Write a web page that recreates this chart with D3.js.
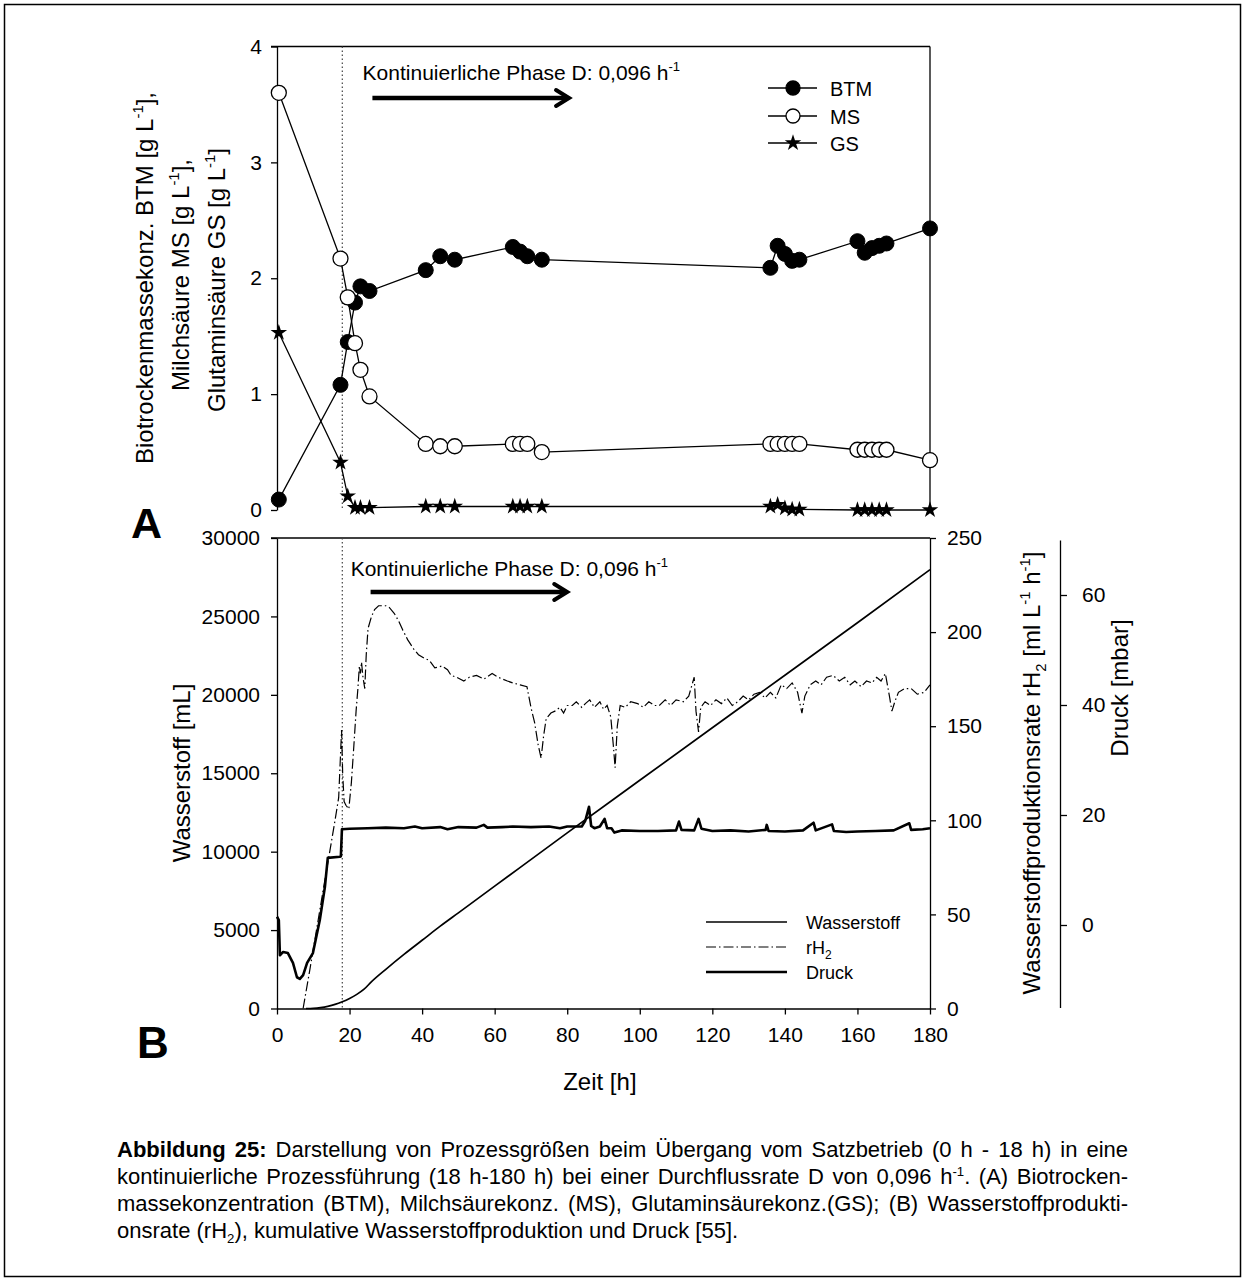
<!DOCTYPE html>
<html>
<head>
<meta charset="utf-8">
<script src="https://cdn.jsdelivr.net/npm/d3@7"></script>
<style>
body { margin: 0; background: #fff; }
#wrap { position: relative; width: 1245px; height: 1281px; }
svg { position: absolute; left: 0; top: 0; }
#caption { position: absolute; left: 117px; top: 1136px; width: 1011px;
  font: 22px "Liberation Sans", Arial, sans-serif; line-height: 27px; color: #000; }
#caption div { text-align: justify; text-align-last: justify; }
#caption div.last { text-align: left; text-align-last: left; }
#caption sup, #caption sub { font-size: 0.6em; line-height: 0; }
.tick text { font-family: "Liberation Sans", Arial, sans-serif; font-size: 21px; }
</style>
</head>
<body>
<div id="wrap">
<div id="chart"></div>
<div id="caption">
  <div><b>Abbildung 25:</b> Darstellung von Prozessgrößen beim Übergang vom Satzbetrieb (0 h - 18 h) in eine</div>
  <div>kontinuierliche Prozessführung (18 h-180 h) bei einer Durchflussrate D von 0,096 h<sup>-1</sup>. (A) Biotrocken-</div>
  <div>massekonzentration (BTM), Milchsäurekonz. (MS), Glutaminsäurekonz.(GS); (B) Wasserstoffprodukti-</div>
  <div class="last">onsrate (rH<sub>2</sub>), kumulative Wasserstoffproduktion und Druck [55].</div>
</div>
</div>
<script>
const width = 1245, height = 1281;

// Panel A: sampling times [h] and concentrations [g/L]
const timeA = [0.5, 17.5, 19.5, 21.5, 23, 25.5, 41, 45, 49, 65, 67, 69, 73,
               136, 138, 140, 142, 144, 160, 162, 164, 166, 168, 180];
const btm = [0.09, 1.08, 1.45, 1.79, 1.93, 1.89, 2.07, 2.19, 2.16, 2.27, 2.23, 2.19, 2.16,
             2.09, 2.28, 2.21, 2.15, 2.16, 2.32, 2.22, 2.26, 2.28, 2.30, 2.43];
const ms = [3.6, 2.17, 1.835, 1.44, 1.21, 0.98, 0.57, 0.55, 0.55, 0.57, 0.57, 0.57, 0.50,
            0.57, 0.57, 0.57, 0.57, 0.57, 0.52, 0.52, 0.52, 0.52, 0.52, 0.43];
const gs = [1.53, 0.41, 0.12, 0.02, 0.02, 0.02, 0.03, 0.03, 0.03, 0.03, 0.03, 0.03, 0.03,
            0.03, 0.045, 0.015, 0.005, 0.005, 0, 0, 0, 0, 0, 0];

// Panel B: cumulative hydrogen [mL]
const h2Time = [8, 10, 12, 14, 16, 18, 20, 22, 24, 26, 30, 35, 40, 45, 50, 60, 80, 100, 120, 140, 160, 180];
const h2Vol = [0, 15, 60, 140, 260, 430, 640, 900, 1230, 1700, 2500, 3450, 4350, 5250, 6100, 7800,
               11200, 14550, 17900, 21250, 24600, 27980];

// Panel B: hydrogen production rate rH2 [ml L-1 h-1]
const rh2Time = [7.2, 9, 11, 13, 14.6, 16, 17, 17.4, 17.8, 18.1, 18.5, 19, 19.8, 20.5, 21.2, 21.8, 22.3, 22.7,
  23, 23.3, 23.7, 24.2, 24.6, 25.1, 26, 26.9, 28, 30, 31, 32.3, 33.5, 34.7, 36, 37.7, 39, 40.7, 42, 43.5,
  45.5, 47, 48, 49.5, 51.5, 53, 55, 57, 59.3, 61, 63.5, 65, 67, 68.9, 70, 71, 72, 72.8, 73.5, 74.2, 75.5,
  76.6, 78, 79, 80, 81.4, 82.5, 84, 85, 86.2, 87.5, 89, 90, 91, 92, 92.7, 93.2, 93.8, 94.6, 96, 97.5,
  99.4, 101, 102.5, 104, 105.4, 107, 108.5, 110, 112, 113.5, 115, 115.5, 116.2, 116.8, 118, 119.5, 121,
  122.5, 124, 125.5, 127, 128.5, 130, 131.5, 133, 134.5, 136, 137.5, 139, 140.5, 142, 143.5, 144.7,
  145.5, 147, 148.5, 150, 151.5, 153.3, 155, 156.5, 158, 159.3, 161, 162.5, 164, 165.3, 166.5, 167.7,
  168.9, 169.5, 170.3, 171.3, 173, 174.8, 176.5, 178.4, 180];
const rh2Val = [0, 20, 43, 66, 84, 100, 112, 130, 148, 125, 110, 108, 106, 120, 140, 158, 170, 182,
  178, 184, 176, 170, 188, 202, 208, 212, 214, 214, 213, 210, 206, 201, 196, 191, 188, 186, 185, 181,
  182, 180, 177, 176, 174, 176, 177, 175, 178, 176, 174, 173, 172, 171, 160, 152, 140, 133, 145, 154, 157,
  158, 160, 157, 161, 161, 163, 160, 162, 164, 160, 163, 159, 161, 155, 140, 128, 150, 161, 160, 163,
  162, 160, 163, 161, 161, 164, 161, 164, 163, 166, 176, 158, 147, 160, 163, 161, 164,
  162, 165, 161, 163, 166, 164, 167, 168, 165, 168, 165, 172, 170, 173, 168, 157,
  166, 172, 174, 172, 176, 177, 174, 176, 172, 174, 171, 174, 173, 176, 174, 178,
  165, 158, 163, 168, 170, 170, 167, 168, 172];

// Panel B: pressure [mbar]
const pTime = [0, 0.5, 0.8, 1.7, 3, 4.4, 5.5, 6.3, 7.2, 8.3, 9.9, 11.8, 13.2, 14, 17.3, 17.6, 17.9, 20, 25,
  30, 35, 38, 40, 45, 47, 50, 55, 57, 58, 62, 65, 70, 75, 78, 80, 84, 85, 86, 86.6, 87.5, 89, 90.3, 91,
  92.2, 93, 95, 100, 105, 110, 110.8, 111.5, 115, 116.2, 117, 120, 125, 130, 134.7, 135, 135.5, 140,
  145, 147.9, 148.5, 153, 153.5, 156.9, 160, 165, 170, 174.3, 174.8, 178, 180];
const pVal = [1.5, 0.9, -5.5, -4.9, -5.1, -6.9, -9.5, -9.8, -9.1, -6.9, -5.1, 0.9, 6.9, 12.2, 12.4, 12.5,
  17.4, 17.5, 17.6, 17.7, 17.6, 17.9, 17.6, 17.8, 17.4, 17.8, 17.7, 18.2, 17.7, 17.8, 17.9, 17.8, 17.9,
  17.6, 17.9, 17.9, 19, 21.5, 18, 17.6, 17.9, 19.3, 17.6, 17.6, 16.8, 17.2, 17.1, 17.1, 17.2, 18.8, 17.3,
  17.2, 19.3, 17.5, 17.1, 17.2, 17.0, 17.3, 18.2, 17.1, 17.0, 17.2, 18.6, 17.2, 18.3, 17.1, 16.9, 17.0,
  17.1, 17.2, 18.5, 17.3, 17.4, 17.6];

const yTicksA = [0, 1, 2, 3, 4];
const xTicks = [0, 20, 40, 60, 80, 100, 120, 140, 160, 180];
const yTicksB = [0, 5000, 10000, 15000, 20000, 25000, 30000];
const rTicks = [0, 50, 100, 150, 200, 250];
const pTicks = [0, 20, 40, 60];

const font = '"Liberation Sans", Arial, sans-serif';
const fmt = d3.format('d');

const svg = d3.select('#chart').append('svg')
    .attr('width', width)
    .attr('height', height);

// outer frame
svg.append('rect')
    .attr('x', 4.5).attr('y', 4.5)
    .attr('width', width - 9).attr('height', height - 9)
    .attr('fill', 'none').attr('stroke', '#000').attr('stroke-width', 1.5);

const x = d3.scaleLinear().domain([0, 180]).range([277, 930]);
const yA = d3.scaleLinear().domain([0, 4]).range([510, 46.5]);
const yB = d3.scaleLinear().domain([0, 30000]).range([1008.5, 538]);
const yR = d3.scaleLinear().domain([0, 250]).range([1008.5, 538]);
const yP = d3.scaleLinear().domain([-15, 70]).range([1007.5, 540]);

function styleAxis(g) {
    g.selectAll('path, line').attr('stroke', '#000').attr('stroke-width', 1.3);
    g.selectAll('text').attr('fill', '#000');
}

// ---------- Panel A ----------
svg.append('g').attr('transform', 'translate(277,0)')
    .call(d3.axisLeft(yA).tickValues(yTicksA).tickFormat(fmt).tickSize(6).tickSizeOuter(0).tickPadding(9))
    .call(styleAxis);
svg.append('line').attr('x1', 271).attr('x2', 930).attr('y1', 46.5).attr('y2', 46.5)
    .attr('stroke', '#000').attr('stroke-width', 1.3);
svg.append('line').attr('x1', 930).attr('x2', 930).attr('y1', 46.5).attr('y2', 510)
    .attr('stroke', '#000').attr('stroke-width', 1.3);

// dotted start of continuous phase
svg.append('line').attr('x1', x(18)).attr('x2', x(18)).attr('y1', yA(4)).attr('y2', yA(0))
    .attr('stroke', '#444').attr('stroke-width', 1.2).attr('stroke-dasharray', '1.5,2.5');

const lineA = d3.line().x(d => x(d[0])).y(d => yA(d[1]));
const seriesA = [btm, ms, gs].map(v => timeA.map((t, i) => [t, v[i]]));
seriesA.forEach(s => {
    svg.append('path').attr('d', lineA(s))
        .attr('fill', 'none').attr('stroke', '#000').attr('stroke-width', 1.3);
});

const star = d3.symbol().type(d3.symbolStar).size(85);

svg.append('g').selectAll('circle').data(seriesA[0]).enter().append('circle')
    .attr('cx', d => x(d[0])).attr('cy', d => yA(d[1])).attr('r', 7.5)
    .attr('fill', '#000').attr('stroke', '#000');
svg.append('g').selectAll('circle').data(seriesA[1]).enter().append('circle')
    .attr('cx', d => x(d[0])).attr('cy', d => yA(d[1])).attr('r', 7.5)
    .attr('fill', '#fff').attr('stroke', '#000').attr('stroke-width', 1.3);
svg.append('g').selectAll('path').data(seriesA[2]).enter().append('path')
    .attr('d', star)
    .attr('transform', d => `translate(${x(d[0])},${yA(d[1])})`)
    .attr('fill', '#000');

// legend A
const legA = [
    { name: 'BTM', y: 88, kind: 'fill' },
    { name: 'MS', y: 116, kind: 'open' },
    { name: 'GS', y: 143, kind: 'star' }
];
legA.forEach(l => {
    svg.append('line').attr('x1', 768).attr('x2', 817).attr('y1', l.y).attr('y2', l.y)
        .attr('stroke', '#000').attr('stroke-width', 1.3);
    if (l.kind === 'star') {
        svg.append('path').attr('d', star).attr('transform', `translate(793,${l.y})`).attr('fill', '#000');
    } else {
        svg.append('circle').attr('cx', 793).attr('cy', l.y).attr('r', 7)
            .attr('fill', l.kind === 'fill' ? '#000' : '#fff').attr('stroke', '#000').attr('stroke-width', 1.3);
    }
    svg.append('text').attr('x', 830).attr('y', l.y + 7.5)
        .attr('font-family', font).attr('font-size', 20).text(l.name);
});

// annotation + arrow
function phaseNote(tx, ty, ax1, ax2, ay) {
    const t = svg.append('text').attr('x', tx).attr('y', ty)
        .attr('font-family', font).attr('font-size', 21);
    t.append('tspan').text('Kontinuierliche Phase D: 0,096 h');
    t.append('tspan').attr('dy', -9).attr('font-size', 13).text('-1');
    svg.append('line').attr('x1', ax1).attr('x2', ax2 - 2).attr('y1', ay).attr('y2', ay)
        .attr('stroke', '#000').attr('stroke-width', 4.5);
    svg.append('path')
        .attr('d', `M${ax2 - 13},${ay - 8} L${ax2},${ay} L${ax2 - 13},${ay + 8}`)
        .attr('fill', 'none').attr('stroke', '#000').attr('stroke-width', 4)
        .attr('stroke-linecap', 'round').attr('stroke-linejoin', 'miter');
}
phaseNote(x(23.6), 80, x(26.3), x(80.5), 98);

// rotated axis titles
function rotLabel(cx, cy, parts, size) {
    const t = svg.append('text')
        .attr('transform', `translate(${cx},${cy}) rotate(-90)`)
        .attr('text-anchor', 'middle')
        .attr('font-family', font).attr('font-size', size);
    parts.forEach(p => {
        const s = t.append('tspan').text(p[0]);
        if (p[1] === 'sup') s.attr('font-size', size * 0.62).attr('dy', -size * 0.42);
        else if (p[1] === 'sub') s.attr('font-size', size * 0.62).attr('dy', size * 0.25);
        else if (p[1] === 'back') s.attr('dy', size * 0.42);
        else if (p[1] === 'up') s.attr('dy', -size * 0.25);
    });
    return t;
}
rotLabel(153, 278, [['Biotrockenmassekonz. BTM [g L'], ['-1', 'sup'], ['],', 'back']], 24);
rotLabel(189, 275, [['Milchsäure MS [g L'], ['-1', 'sup'], ['],', 'back']], 24);
rotLabel(225, 280, [['Glutaminsäure GS [g L'], ['-1', 'sup'], [']', 'back']], 24);

svg.append('text').attr('x', 131).attr('y', 538)
    .attr('font-family', font).attr('font-size', 43).attr('font-weight', 'bold').text('A');

// ---------- Panel B ----------
svg.append('g').attr('transform', 'translate(277,0)')
    .call(d3.axisLeft(yB).tickValues(yTicksB).tickFormat(fmt).tickSize(6).tickSizeOuter(0).tickPadding(11))
    .call(styleAxis);
svg.append('g').attr('transform', 'translate(0,1008.5)')
    .call(d3.axisBottom(x).tickValues(xTicks).tickFormat(fmt).tickSize(6).tickSizeOuter(0).tickPadding(13))
    .call(styleAxis);
svg.append('g').attr('transform', 'translate(930,0)')
    .call(d3.axisRight(yR).tickValues(rTicks).tickFormat(fmt).tickSize(6).tickSizeOuter(0).tickPadding(11))
    .call(styleAxis);
svg.append('g').attr('transform', 'translate(1060,0)')
    .call(d3.axisRight(yP).tickValues(pTicks).tickFormat(fmt).tickSize(7).tickSizeOuter(0).tickPadding(15))
    .call(styleAxis);
svg.append('line').attr('x1', 271).attr('x2', 930).attr('y1', 538).attr('y2', 538)
    .attr('stroke', '#000').attr('stroke-width', 1.3);

svg.append('line').attr('x1', x(18)).attr('x2', x(18)).attr('y1', 538).attr('y2', 1008.5)
    .attr('stroke', '#444').attr('stroke-width', 1.2).attr('stroke-dasharray', '1.5,2.5');

const lineH2 = d3.line().x(d => x(d[0])).y(d => yB(d[1])).curve(d3.curveMonotoneX);
svg.append('path').attr('d', lineH2(h2Time.map((t, i) => [t, h2Vol[i]])))
    .attr('fill', 'none').attr('stroke', '#000').attr('stroke-width', 1.7);

const lineR = d3.line().x(d => x(d[0])).y(d => yR(d[1]));
svg.append('path').attr('d', lineR(rh2Time.map((t, i) => [t, rh2Val[i]])))
    .attr('fill', 'none').attr('stroke', '#000').attr('stroke-width', 1.2)
    .attr('stroke-dasharray', '10,3,1.5,3');

const lineP = d3.line().x(d => x(d[0])).y(d => yP(d[1]));
svg.append('path').attr('d', lineP(pTime.map((t, i) => [t, pVal[i]])))
    .attr('fill', 'none').attr('stroke', '#000').attr('stroke-width', 2.6)
    .attr('stroke-linejoin', 'round');

phaseNote(x(20.3), 576, x(25.8), x(80), 592);

// legend B
const legB = [
    { name: 'Wasserstoff', y: 922, w: 1.7, dash: null },
    { name: 'rH', sub: '2', y: 947, w: 1.2, dash: '10,3,1.5,3' },
    { name: 'Druck', y: 972, w: 2.6, dash: null }
];
legB.forEach(l => {
    const ln = svg.append('line').attr('x1', 706).attr('x2', 787).attr('y1', l.y).attr('y2', l.y)
        .attr('stroke', '#000').attr('stroke-width', l.w);
    if (l.dash) ln.attr('stroke-dasharray', l.dash);
    const t = svg.append('text').attr('x', 806).attr('y', l.y + 6.5)
        .attr('font-family', font).attr('font-size', 18);
    t.append('tspan').text(l.name);
    if (l.sub) t.append('tspan').attr('font-size', 12).attr('dy', 5).text(l.sub);
});

// axis titles B
svg.append('text').attr('x', x(89)).attr('y', 1090).attr('text-anchor', 'middle')
    .attr('font-family', font).attr('font-size', 24).text('Zeit [h]');
rotLabel(190, 773, [['Wasserstoff [mL]']], 24);
rotLabel(1040, 773, [['Wasserstoffproduktionsrate rH'], ['2', 'sub'], [' [ml L', 'up'], ['-1', 'sup'],
    [' h', 'back'], ['-1', 'sup'], [']', 'back']], 24);
rotLabel(1128, 688, [['Druck [mbar]']], 24);

svg.append('text').attr('x', 137).attr('y', 1058)
    .attr('font-family', font).attr('font-size', 44).attr('font-weight', 'bold').text('B');
</script>
</body>
</html>
